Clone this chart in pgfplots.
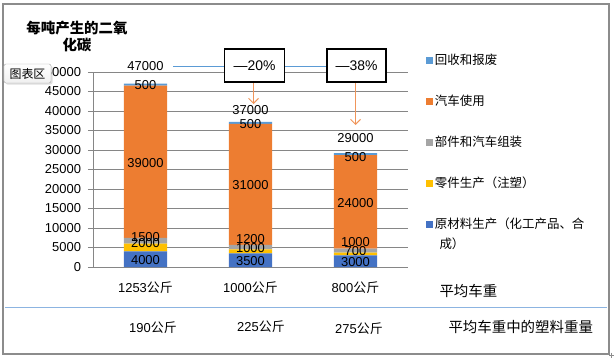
\documentclass[border=0pt]{standalone}
\usepackage{pgfplots}
\pgfplotsset{compat=1.18}
\usepackage{fontspec}
\setmainfont{Liberation Sans}
\newfontfamily\cjk{Noto Sans CJK SC}
\usetikzlibrary{arrows.meta,shadows}
\definecolor{cBlue}{HTML}{4472C4}
\definecolor{cYellow}{HTML}{FFC000}
\definecolor{cGray}{HTML}{A5A5A5}
\definecolor{cOrange}{HTML}{ED7D31}
\definecolor{cLBlue}{HTML}{5B9BD5}
\definecolor{gridc}{HTML}{868686}
\definecolor{framec}{HTML}{8C8C8C}
\definecolor{arrowc}{HTML}{F0955A}
\definecolor{sepc}{RGB}{140,180,225}
\newcommand{\numfont}{\fontsize{13}{13}\selectfont}
\begin{document}
\begin{tikzpicture}
\path (0,0) rectangle (615bp,-359bp);
\begin{axis}[
  at={(93bp,-267bp)}, anchor=south west,
  scale only axis, width=315bp, height=195bp,
  ybar stacked, bar width=0.41,
  xmin=-0.5, xmax=2.5, ymin=0, ymax=50000,
  enlarge x limits=false, enlarge y limits=false,
  clip=false,
  axis x line*=bottom, axis y line*=left,
  axis line style={gridc, line width=0.8pt},
  xtick={0,1,2},
  xticklabels={{1253{\cjk 公斤}},{1000{\cjk 公斤}},{800{\cjk 公斤}}},
  major x tick style={draw=none},
  extra x ticks={-0.5,0.5,1.5,2.5},
  extra x tick labels={},
  extra x tick style={grid=none, tick style={draw=gridc, line width=0.8pt}},
  ytick={0,5000,...,50000},
  ymajorgrids, grid style={gridc, line width=0.7pt},
  tick align=outside, major tick length=5bp,
  tick style={gridc, line width=0.8pt},
  scaled y ticks=false,
  /pgf/number format/assume math mode=true,
  yticklabel style={/pgf/number format/fixed, /pgf/number format/1000 sep={}, font=\numfont, xshift=-3.5bp},
  xticklabel style={font=\numfont, yshift=-6bp},
  legend image code/.code={\fill (0bp,-3.5bp) rectangle (7bp,3.5bp);},
  reverse legend,
  legend style={at={(1.047,1.113)}, anchor=north west, draw=none, fill=none,
    row sep=25bp, font=\cjk\fontsize{12.5}{15}\selectfont,
    cells={anchor=west}},
]
\addplot[fill=cBlue, draw=none] coordinates {(0,4000) (1,3500) (2,3000)};
\addplot[fill=cYellow, draw=none] coordinates {(0,2000) (1,1000) (2,700)};
\addplot[fill=cGray, draw=none] coordinates {(0,1500) (1,1200) (2,1000)};
\addplot[fill=cOrange, draw=none] coordinates {(0,39000) (1,31000) (2,24000)};
\addplot[fill=cLBlue, draw=none] coordinates {(0,500) (1,500) (2,500)};
\legend{\strut 原材料生产（化工产品、合,\strut 零件生产（注塑）,\strut 部件和汽车组装,\strut 汽车使用,\strut 回收和报废}
\coordinate (a1) at (axis cs:0,1900);
\coordinate (a2) at (axis cs:0,6150);
\coordinate (a3) at (axis cs:0,7700);
\coordinate (a4) at (axis cs:0,26700);
\coordinate (a5) at (axis cs:0,46700);
\coordinate (a6) at (axis cs:0,51500);
\coordinate (b1) at (axis cs:1,1550);
\coordinate (b2) at (axis cs:1,4900);
\coordinate (b3) at (axis cs:1,7200);
\coordinate (b4) at (axis cs:1,21000);
\coordinate (b5) at (axis cs:1,36700);
\coordinate (b6) at (axis cs:1,40300);
\coordinate (c1) at (axis cs:2,1300);
\coordinate (c2) at (axis cs:2,4100);
\coordinate (c3) at (axis cs:2,6400);
\coordinate (c4) at (axis cs:2,16400);
\coordinate (c5) at (axis cs:2,28200);
\coordinate (c6) at (axis cs:2,33000);
\end{axis}
\begin{scope}[every node/.style={font=\numfont, inner sep=0pt}]
\node at (a1) {4000};
\node at (a2) {2000};
\node at (a3) {1500};
\node at (a4) {39000};
\node at (a5) {500};
\node at (a6) {47000};
\node at (b1) {3500};
\node at (b2) {1000};
\node at (b3) {1200};
\node at (b4) {31000};
\node at (b5) {500};
\node at (b6) {37000};
\node at (c1) {3000};
\node at (c2) {700};
\node at (c3) {1000};
\node at (c4) {24000};
\node at (c5) {500};
\node at (c6) {29000};
\end{scope}
\begin{scope}[x=1bp, y=-1bp]
\draw[framec, line width=1.2bp] (3,4) rectangle (609,354);
\draw[framec, line width=0.8bp] (609,355) -- (614,355) (611.5,352.5) -- (611.5,357.5);
\node[font=\cjk\bfseries\fontsize{14.5}{17}\selectfont, align=center] at (77,36.5) {每吨产生的二氧\\化碳};
\draw[cLBlue, line width=1bp] (173,66) -- (327,66);
\node[draw=black, line width=1.6bp, fill=white, minimum width=60bp, minimum height=33bp, font=\fontsize{14}{14}\selectfont] at (254.5,65.5) {—20\%};
\node[draw=black, line width=1.6bp, fill=white, minimum width=59bp, minimum height=33bp, font=\fontsize{14}{14}\selectfont] at (356.5,65.5) {—38\%};
\draw[arrowc, line width=1bp, -{Straight Barb[length=5bp,width=10bp]}] (253.5,83) -- (253.5,104);
\draw[arrowc, line width=1bp, -{Straight Barb[length=5bp,width=10bp]}] (355.5,83) -- (355.5,125);
\node[font=\cjk\fontsize{12.5}{12.5}\selectfont, anchor=west] at (436,244) {成）};
\node[font=\cjk\fontsize{14.5}{14.5}\selectfont, anchor=west] at (436,291) {平均车重};
\draw[sepc, line width=1.2bp] (5,307.5) -- (607,307.5);
\node[font=\numfont] at (153,328) {190{\cjk 公斤}};
\node[font=\numfont] at (261,327) {225{\cjk 公斤}};
\node[font=\numfont] at (359,329) {275{\cjk 公斤}};
\node[font=\cjk\fontsize{14.5}{14.5}\selectfont, anchor=west] at (445,327) {平均车重中的塑料重量};
\node[draw=gray!70, rounded corners=2bp, top color=white, bottom color=gray!12, drop shadow={opacity=0.25, shadow xshift=1.5bp, shadow yshift=-1.5bp}, minimum width=47bp, minimum height=19bp, inner sep=0pt, font=\cjk\fontsize{12}{12}\selectfont] at (27.5,73.5) {图表区};
\end{scope}
\end{tikzpicture}
\end{document}
